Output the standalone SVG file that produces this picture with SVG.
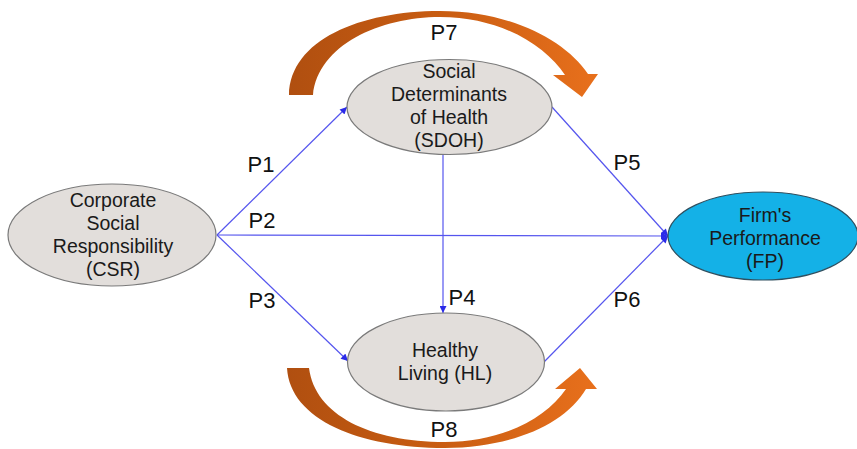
<svg xmlns="http://www.w3.org/2000/svg" width="857" height="449" viewBox="0 0 857 449">
<defs>
<style>
.node{fill:#e2dedb;stroke:#7a7a7a;stroke-width:1.2}
.fp{fill:#14b1e7;stroke:#2f4f5f;stroke-width:1.2}
.lbl{font-family:"Liberation Sans",Arial,sans-serif;font-size:19.5px;fill:#1a1a1a;text-anchor:middle}
.p{font-family:"Liberation Sans",Arial,sans-serif;font-size:22px;fill:#111;text-anchor:middle}
.edge{stroke:#5555ee;stroke-width:1.2;fill:none;marker-end:url(#ah)}
</style>
<marker id="ah" viewBox="0 0 10 10" refX="10" refY="5" markerWidth="9" markerHeight="7" markerUnits="userSpaceOnUse" orient="auto">
<path d="M0,0 L10,5 L0,10 Z" fill="#2a2ae8"/>
</marker>
<linearGradient id="og" x1="0" y1="0" x2="1" y2="0">
<stop offset="0" stop-color="#b04f10"/>
<stop offset="0.5" stop-color="#c95d12"/>
<stop offset="1" stop-color="#e8701c"/>
</linearGradient>
</defs>
<rect width="857" height="449" fill="#ffffff"/>
<g id="connectors">
<line class="edge" x1="217" y1="235" x2="347" y2="107"/>
<line class="edge" x1="217" y1="235" x2="668" y2="236"/>
<line class="edge" x1="217" y1="235" x2="348" y2="361"/>
<line class="edge" x1="443" y1="155" x2="443" y2="313"/>
<line class="edge" x1="552" y1="107" x2="668" y2="236"/>
<line class="edge" x1="544" y1="362" x2="668" y2="236"/>
</g>
<g id="arrow-p7">
<path d="M289,95 C290,40 360,11 440,11 C510,11 565,40 588,74 L598,74 L582,97 L553,75 L565,75 C545,45 500,17 440,17 C380,17 318,45 313,95 Z" fill="url(#og)"/>
</g>
<g id="arrow-p8">
<path d="M287,368 C290,420 360,448 445,448 C510,448 565,425 586,389 L597,389 L580,368 L555,389 L566,389 C545,420 500,442 445,442 C370,442 315,415 309,368 Z" fill="url(#og)"/>
</g>
<g id="csr">
<ellipse class="node" cx="112" cy="235" rx="104" ry="51"/>
<text class="lbl" x="113" y="207">Corporate</text>
<text class="lbl" x="113" y="230">Social</text>
<text class="lbl" x="113" y="253">Responsibility</text>
<text class="lbl" x="113" y="276">(CSR)</text>
</g>
<g id="sdoh">
<ellipse class="node" cx="449.5" cy="107" rx="102.5" ry="47.5"/>
<text class="lbl" x="449" y="78">Social</text>
<text class="lbl" x="449" y="101">Determinants</text>
<text class="lbl" x="449" y="124">of Health</text>
<text class="lbl" x="449" y="147">(SDOH)</text>
</g>
<g id="hl">
<ellipse class="node" cx="446" cy="362" rx="98.5" ry="49"/>
<text class="lbl" x="445" y="357">Healthy</text>
<text class="lbl" x="445" y="380">Living (HL)</text>
</g>
<g id="fp">
<ellipse class="fp" cx="763" cy="236" rx="95" ry="44"/>
<text class="lbl" x="765" y="222">Firm's</text>
<text class="lbl" x="765" y="245">Performance</text>
<text class="lbl" x="765" y="268">(FP)</text>
</g>
<g id="labels">
<text class="p" x="261" y="172">P1</text>
<text class="p" x="262" y="228">P2</text>
<text class="p" x="262" y="308">P3</text>
<text class="p" x="462" y="305">P4</text>
<text class="p" x="627" y="170">P5</text>
<text class="p" x="627" y="307">P6</text>
<text class="p" x="444" y="40">P7</text>
<text class="p" x="444" y="437">P8</text>
</g>
</svg>
